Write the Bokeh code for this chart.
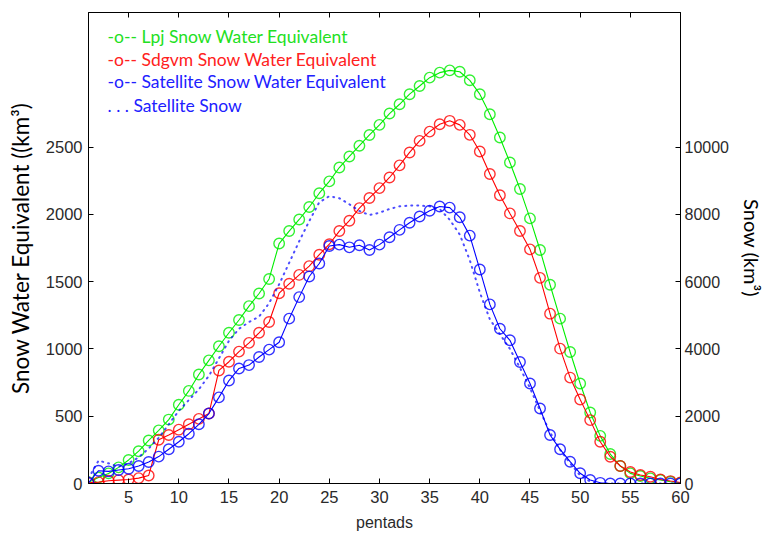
from bokeh.plotting import figure
from bokeh.models import Range1d, LinearAxis, FixedTicker, Label
from bokeh.embed import file_html
from bokeh.resources import INLINE

# pentad index (x) and the four series
pentads = list(range(1, 61))

lpj_swe = [10, 45, 75, 120, 175, 240, 320, 395, 475, 585,
           688, 810, 915, 1020, 1120, 1215, 1318, 1412, 1520, 1783,
           1876, 1962, 2055, 2157, 2245, 2348, 2430, 2510, 2590, 2665,
           2749, 2818, 2893, 2954, 3016, 3053, 3070, 3060, 2996, 2893,
           2744, 2571, 2385, 2188, 1970, 1735, 1477, 1225, 977, 743,
           528, 354, 219, 130, 75, 56, 38, 26, 13, 6]

sdgvm_swe = [5, 10, 20, 25, 30, 40, 60, 325, 360, 400,
             440, 480, 520, 840, 905, 980, 1045, 1120, 1200, 1414,
             1484, 1550, 1615, 1700, 1778, 1876, 1953, 2046, 2122, 2195,
             2274, 2364, 2460, 2546, 2615, 2670, 2695, 2665, 2591, 2467,
             2300, 2142, 2007, 1876, 1740, 1528, 1262, 1002, 787, 624,
             471, 310, 199, 130, 85, 63, 50, 30, 18, 8]

satellite_swe = [5, 95, 90, 100, 110, 130, 160, 200, 255, 310,
                 370, 440, 520, 640, 765, 855, 880, 940, 995, 1050,
                 1225, 1385, 1538, 1635, 1765, 1775, 1755, 1770, 1735, 1775,
                 1830, 1885, 1938, 1984, 2027, 2058, 2050, 1978, 1842, 1590,
                 1331, 1150, 1064, 903, 743, 557, 360, 254, 162, 76,
                 26, 5, 0, 0, 0, 0, 0, 0, 0, 0]

# satellite snow volume, km^3 (right axis)
satellite_snow = [160, 680, 600, 500, 600, 780, 1040, 1360, 1760, 2160,
                  2480, 2800, 3200, 3720, 4240, 4600, 4800, 4960, 5360, 5920,
                  6560, 7200, 7800, 8360, 8540, 8480, 8300, 8100, 7980, 8048,
                  8160, 8240, 8260, 8260, 8240, 8160, 7840, 7400, 6640, 5680,
                  4880, 4440, 4000, 3440, 2840, 2160, 1520, 1000, 600, 240,
                  60, 0, 0, 0, 0, 0, 0, 0, 0, 0]

x_ticks = [5, 10, 15, 20, 25, 30, 35, 40, 45, 50, 55, 60]
swe_ticks = [0, 500, 1000, 1500, 2000, 2500]
snow_ticks = [0, 2000, 4000, 6000, 8000, 10000]

legend_lines = ["-o-- Lpj Snow Water Equivalent",
                "-o-- Sdgvm Snow Water Equivalent",
                "-o-- Satellite Snow Water Equivalent",
                ". . . Satellite Snow"]

GREEN = "#00ee00"
RED = "#ff0000"
BLUE = "#0000ff"
TICK_FONT = "Liberation Sans"
LABEL_FONT = "Lato"

p = figure(width=766, height=535, output_backend="svg", toolbar_location=None,
           x_range=Range1d(1, 60), y_range=Range1d(0, 3500),
           min_border_left=88, min_border_right=81,
           min_border_top=12, min_border_bottom=52)
p.extra_y_ranges = {"snow": Range1d(0, 14000)}
p.grid.visible = False
p.outline_line_color = "black"
p.outline_line_width = 1
p.background_fill_color = "white"
p.border_fill_color = "white"


def style_axis(ax, ticks, size="16.5px"):
    ax.ticker = FixedTicker(ticks=ticks)
    ax.axis_line_color = "black"
    ax.major_tick_line_color = "black"
    ax.major_tick_in = 5
    ax.major_tick_out = 0
    ax.minor_tick_line_color = None
    ax.major_label_text_font = TICK_FONT
    ax.major_label_text_font_size = size
    ax.major_label_text_color = "#2a2a2a"


xax = p.below[0]
style_axis(xax, x_ticks)
xax.major_label_standoff = 7
xax.axis_label = "pentads"
xax.axis_label_text_font = TICK_FONT
xax.axis_label_text_font_size = "16px"
xax.axis_label_text_font_style = "normal"
xax.axis_label_text_color = "#2a2a2a"
xax.axis_label_standoff = 8

yax = p.left[0]
style_axis(yax, swe_ticks)
yax.major_label_standoff = 6
yax.axis_label = "Snow Water Equivalent ((km³)"
yax.axis_label_text_font = LABEL_FONT
yax.axis_label_text_font_size = "22.5px"
yax.axis_label_text_font_style = "normal"
yax.axis_label_text_color = "black"
yax.axis_label_standoff = 9

rax = LinearAxis(y_range_name="snow")
style_axis(rax, snow_ticks, size="16px")
rax.major_label_standoff = 4
rax.axis_label = "Snow (km³)"
rax.axis_label_text_font = LABEL_FONT
rax.axis_label_text_font_size = "20px"
rax.axis_label_text_font_style = "normal"
rax.axis_label_text_color = "black"
rax.axis_label_standoff = 8
p.add_layout(rax, "right")

tax = LinearAxis()
style_axis(tax, x_ticks)
tax.major_label_text_font_size = "1px"
tax.major_label_text_alpha = 0
tax.major_label_standoff = 0
p.add_layout(tax, "above")

# model and satellite SWE series: solid line with open circles
for vals, col in [(lpj_swe, GREEN), (sdgvm_swe, RED), (satellite_swe, BLUE)]:
    p.line(pentads, vals, line_color=col, line_width=1.1)
    p.scatter(pentads, vals, marker="circle", size=10.5, fill_color=None,
              line_color=col, line_width=1.4, line_alpha=0.8)

# satellite snow volume on the right-hand axis, drawn as round dots
p.line(pentads, satellite_snow, y_range_name="snow", line_color=BLUE,
       line_width=2, line_alpha=0.7, line_dash="1 5", line_cap="round")

# text legend in the upper left
legend_cols = ["#22e022", "#ff2020", "#2020ff", "#2020ff"]
legend_y = [3325, 3152, 2984, 2811]
for txt, col, yy in zip(legend_lines, legend_cols, legend_y):
    p.add_layout(Label(x=2.9, y=yy, text=txt, text_color=col,
                       text_font=LABEL_FONT, text_font_size="17.5px",
                       text_baseline="middle"))

open("out.html", "w").write(file_html(p, INLINE))
